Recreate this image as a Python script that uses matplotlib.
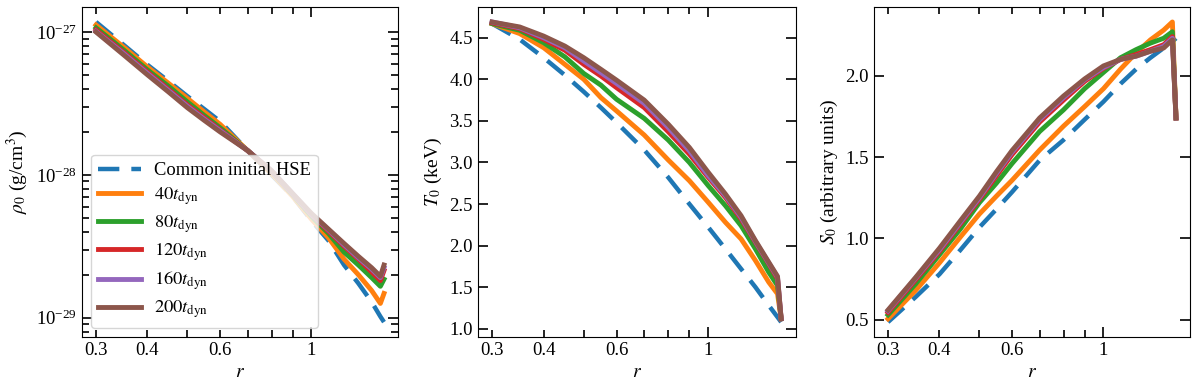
import numpy as np
import matplotlib
matplotlib.use("Agg")
import matplotlib.pyplot as plt
from matplotlib import ticker

# radial grid (same for every profile)
r = [0.3, 0.35, 0.4, 0.45, 0.5, 0.55, 0.6, 0.7, 0.8, 0.9, 1.0, 1.1, 1.2, 1.3, 1.4, 1.47, 1.5]

labels = ["Common initial HSE", r"$40t_{\rm dyn}$", r"$80t_{\rm dyn}$",
          r"$120t_{\rm dyn}$", r"$160t_{\rm dyn}$", r"$200t_{\rm dyn}$"]

# density profiles (g/cm^3)
rho_hse = [1.175e-27, 8.13e-28, 5.89e-28, 4.52e-28, 3.55e-28, 2.88e-28, 2.37e-28, 1.48e-28, 1.0e-28,
           7.08e-29, 4.79e-29, 3.47e-29, 2.34e-29, 1.74e-29, 1.29e-29, 1.02e-29, 9.33e-30]
rho_40 = [1.12e-27, 7.85e-28, 5.69e-28, 4.37e-28, 3.43e-28, 2.75e-28, 2.26e-28, 1.48e-28, 1.02e-28,
          7.08e-29, 4.90e-29, 3.63e-29, 2.57e-29, 2.0e-29, 1.55e-29, 1.26e-29, 1.48e-29]
rho_80 = [1.07e-27, 7.50e-28, 5.43e-28, 4.17e-28, 3.24e-28, 2.60e-28, 2.14e-28, 1.48e-28, 1.05e-28,
          7.24e-29, 5.13e-29, 3.89e-29, 2.88e-29, 2.34e-29, 1.91e-29, 1.66e-29, 1.86e-29]
rho_120 = [1.035e-27, 7.24e-28, 5.25e-28, 3.98e-28, 3.09e-28, 2.51e-28, 2.07e-28, 1.48e-28, 1.06e-28,
           7.33e-29, 5.25e-29, 4.03e-29, 3.16e-29, 2.57e-29, 2.09e-29, 1.82e-29, 2.14e-29]
rho_160 = [1.01e-27, 7.08e-28, 5.13e-28, 3.89e-28, 3.02e-28, 2.45e-28, 2.04e-28, 1.48e-28, 1.07e-28,
           7.41e-29, 5.31e-29, 4.12e-29, 3.24e-29, 2.63e-29, 2.19e-29, 1.91e-29, 2.24e-29]
rho_200 = [1.0e-27, 6.92e-28, 5.01e-28, 3.80e-28, 2.95e-28, 2.40e-28, 2.0e-28, 1.48e-28, 1.07e-28,
           7.41e-29, 5.37e-29, 4.17e-29, 3.31e-29, 2.69e-29, 2.24e-29, 1.95e-29, 2.34e-29]

# temperature profiles (keV)
T_hse = [4.67, 4.48, 4.26, 4.05, 3.85, 3.66, 3.48, 3.15, 2.82, 2.50, 2.22, 1.96, 1.72, 1.50, 1.28, 1.14, 1.08]
T_40 = [4.67, 4.55, 4.38, 4.18, 4.00, 3.78, 3.62, 3.33, 3.03, 2.78, 2.52, 2.28, 2.08, 1.82, 1.56, 1.42, 1.12]
T_80 = [4.67, 4.59, 4.44, 4.27, 4.07, 3.93, 3.76, 3.53, 3.27, 3.00, 2.72, 2.48, 2.24, 1.96, 1.68, 1.52, 1.12]
T_120 = [4.68, 4.61, 4.48, 4.35, 4.18, 4.04, 3.90, 3.66, 3.37, 3.10, 2.82, 2.58, 2.32, 2.04, 1.78, 1.60, 1.12]
T_160 = [4.69, 4.62, 4.50, 4.38, 4.22, 4.08, 3.95, 3.71, 3.42, 3.14, 2.84, 2.60, 2.34, 2.05, 1.79, 1.62, 1.12]
T_200 = [4.69, 4.63, 4.52, 4.40, 4.26, 4.12, 3.99, 3.75, 3.46, 3.18, 2.88, 2.62, 2.36, 2.06, 1.80, 1.63, 1.12]

# entropy profiles (arbitrary units)
S_hse = [0.486, 0.64, 0.78, 0.93, 1.068, 1.18, 1.285, 1.48, 1.605, 1.73, 1.84, 1.95, 2.04, 2.11, 2.17, 2.21, 2.23]
S_40 = [0.506, 0.68, 0.85, 1.01, 1.15, 1.26, 1.357, 1.543, 1.69, 1.81, 1.92, 2.04, 2.14, 2.22, 2.28, 2.33, 1.74]
S_80 = [0.53, 0.72, 0.90, 1.06, 1.22, 1.34, 1.46, 1.657, 1.79, 1.92, 2.02, 2.11, 2.16, 2.20, 2.23, 2.27, 1.74]
S_120 = [0.545, 0.745, 0.92, 1.09, 1.24, 1.385, 1.515, 1.715, 1.85, 1.965, 2.045, 2.10, 2.13, 2.16, 2.19, 2.24, 1.74]
S_160 = [0.555, 0.755, 0.93, 1.10, 1.25, 1.40, 1.53, 1.73, 1.865, 1.975, 2.05, 2.10, 2.12, 2.15, 2.18, 2.23, 1.74]
S_200 = [0.56, 0.76, 0.94, 1.11, 1.26, 1.41, 1.54, 1.74, 1.875, 1.98, 2.06, 2.10, 2.12, 2.15, 2.17, 2.22, 1.74]

colors = ["#1f77b4", "#ff7f0e", "#2ca02c", "#d62728", "#9467bd", "#8c564b"]
xlabeled = [0.3, 0.4, 0.6, 1]

plt.rcParams["font.family"] = ["Liberation Serif", "DejaVu Serif"]
plt.rcParams["mathtext.fontset"] = "stix"
plt.rcParams["font.size"] = 13.5


def xfmt(x, pos):
    for v in xlabeled:
        if abs(x - v) < 1e-6:
            return "%g" % v
    return ""


fig = plt.figure(figsize=(12, 3.87), dpi=100)
ax1 = fig.add_axes([0.068, 0.129, 0.264, 0.853])
ax2 = fig.add_axes([0.398, 0.129, 0.265, 0.853])
ax3 = fig.add_axes([0.728, 0.129, 0.264, 0.853])

panels = [
    (ax1, [rho_hse, rho_40, rho_80, rho_120, rho_160, rho_200], r"$\rho_0$ (g/cm$^3$)"),
    (ax2, [T_hse, T_40, T_80, T_120, T_160, T_200], r"$T_0$ (keV)"),
    (ax3, [S_hse, S_40, S_80, S_120, S_160, S_200], r"$S_0$ (arbitrary units)"),
]

for ax, series, ylab in panels:
    for i, y in enumerate(series):
        if i == 0:
            ax.plot(r, y, color=colors[i], lw=3.2, ls="--", dashes=(4.8, 2.7), label=labels[i])
        else:
            ax.plot(r, y, color=colors[i], lw=3.5, label=labels[i])
    ax.set_xscale("log")
    ax.xaxis.set_major_formatter(ticker.FuncFormatter(xfmt))
    ax.xaxis.set_minor_formatter(ticker.FuncFormatter(xfmt))
    ax.set_xlabel(r"$r$", fontsize=14)
    ax.set_ylabel(ylab, fontsize=14)
    ax.tick_params(which="both", direction="in", top=True, right=True, width=1.2)
    ax.tick_params(which="major", length=7)
    ax.tick_params(which="minor", length=5)

ax1.set_yscale("log")
ax1.yaxis.set_minor_formatter(ticker.NullFormatter())
ax2.set_yticks([1.0, 1.5, 2.0, 2.5, 3.0, 3.5, 4.0, 4.5])
ax3.set_yticks([0.5, 1.0, 1.5, 2.0])

leg = ax1.legend(loc="lower left", handlelength=2.3, fontsize=13.3, framealpha=0.8,
                 borderaxespad=0.5, labelspacing=0.35, handletextpad=0.7)

fig.savefig("out.png", dpi=100)
